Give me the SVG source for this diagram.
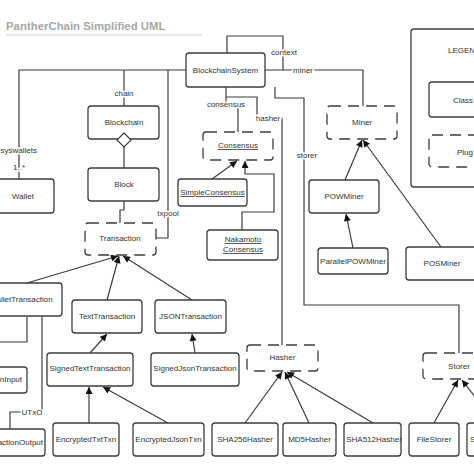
<svg xmlns="http://www.w3.org/2000/svg" width="474" height="474" viewBox="0 0 474 474">
<style>
.b{fill:#fff;stroke:#3c3c3c;stroke-width:1.3}
.d{fill:#fff;stroke:#3c3c3c;stroke-width:1.3;stroke-dasharray:11 7}
.t{font-family:"Liberation Sans",Arial,sans-serif;font-size:8px;fill:#333;text-anchor:middle}
.u{text-decoration:underline}
.c{fill:none;stroke:#3c3c3c;stroke-width:1.2}
.a{fill:none;stroke:#3c3c3c;stroke-width:1.2;marker-end:url(#tri)}
.l{font-family:"Liberation Sans",Arial,sans-serif;font-size:8px;fill:#333;text-anchor:middle;stroke:#fff;stroke-width:3;paint-order:stroke}
</style>
<defs>
<marker id="tri" viewBox="0 0 10 10" refX="10" refY="5" markerWidth="8" markerHeight="7" markerUnits="userSpaceOnUse" orient="auto">
<path d="M0,0 L10,5 L0,10 z" fill="#111"/>
</marker>
</defs>
<rect width="474" height="474" fill="#fff"/>
<g id="title">
<text x="6" y="30" font-family="Liberation Sans,Arial,sans-serif" font-weight="bold" font-size="11.4" fill="#a8a8a8">PantherChain Simplified UML</text>
<line x1="6" y1="35" x2="202" y2="35" stroke="#d0d0d0" stroke-width="1"/>
</g>
<g id="connectors">
<path class="c" d="M186,70 H19 V179"/>
<path class="c" d="M124,70 V106"/>
<path class="c" d="M168,70 V238 H156"/>
<path class="c" d="M227,53 V36 H283 V70"/>
<path class="c" d="M265,70 H363 V106"/>
<path class="c" d="M275,87 V98 H304 V305 H459 V353"/>
<path class="c" d="M226,87 V104 H238 V132"/>
<path class="c" d="M226,97 H257 V118 H282 V345"/>
<path class="c" d="M124,147 V168"/>
<path class="c" d="M124,201 V210 H120 V223"/>
<path class="c" d="M27,317 V342 H-5"/>
<path class="c" d="M42,317 V412 H10 V429"/>
<path class="a" d="M212,179 L237,161"/>
<path class="a" d="M242,230 V212 H274 V174 H245 V161"/>
<path class="a" d="M27,283 L118,256"/>
<path class="a" d="M107,300 L119,256"/>
<path class="a" d="M192,300 L123,256"/>
<path class="a" d="M90,353 L107,334"/>
<path class="a" d="M195,353 L192,334"/>
<path class="a" d="M89,423 V387"/>
<path class="a" d="M168,423 L103,387"/>
<path class="a" d="M245,423 L282,372"/>
<path class="a" d="M309,423 L285,372"/>
<path class="a" d="M373,423 L287,372"/>
<path class="a" d="M434,423 L458,380"/>
<path class="a" d="M476,398 L462,380"/>
<path class="a" d="M345,180 L362,140"/>
<path class="a" d="M441,247 L363,140"/>
<path class="a" d="M353,248 L346,214"/>
<text class="l" x="37" y="153" style="text-anchor:end">esyswallets</text>
<text class="l" x="19" y="170">1..*</text>
<text class="l" x="124" y="96">chain</text>
<text class="l" x="168" y="216">txpool</text>
<text class="l" x="284" y="55">context</text>
<text class="l" x="303" y="73">miner</text>
<text class="l" x="307" y="158">storer</text>
<text class="l" x="226" y="107">consensus</text>
<text class="l" x="268" y="121">hasher</text>
<text class="l" x="32" y="415">UTxO</text>
</g>
<g id="BlockchainSystem"><rect class="b" x="186" y="53" width="79" height="34" rx="3"/><text class="t" x="225.5" y="73">BlockchainSystem</text></g>
<g id="Blockchain"><rect class="b" x="88" y="106" width="71" height="33" rx="3"/><text class="t" x="124" y="125">Blockchain</text><path d="M124,133 L131,140 L124,147 L117,140 z" fill="#fff" stroke="#3c3c3c" stroke-width="1.2"/></g>
<g id="Block"><rect class="b" x="88" y="168" width="71" height="33" rx="3"/><text class="t" x="124" y="187">Block</text></g>
<g id="Wallet"><rect class="b" x="-15" y="179" width="69" height="34" rx="3"/><text class="t" x="23" y="199">Wallet</text></g>
<g id="Transaction"><rect class="d" x="85" y="223" width="71" height="32" rx="3"/><text class="t" x="120" y="241">Transaction</text></g>
<g id="Consensus"><rect class="d" x="203" y="132" width="70" height="28" rx="3"/><text class="t u" x="238" y="148">Consensus</text></g>
<g id="SimpleConsensus"><rect class="b" x="178" y="179" width="69" height="27" rx="3"/><text class="t u" x="212.5" y="195">SimpleConsensus</text></g>
<g id="NakamotoConsensus"><rect class="b" x="207" y="230" width="71" height="30" rx="3"/><text class="t u" x="243" y="242">Nakamoto</text><text class="t u" x="243" y="252">Consensus</text></g>
<g id="Miner"><rect class="d" x="327" y="106" width="70" height="33" rx="3"/><text class="t" x="362" y="125">Miner</text></g>
<g id="POWMiner"><rect class="b" x="309" y="180" width="70" height="33" rx="3"/><text class="t" x="344" y="199">POWMiner</text></g>
<g id="ParallelPOWMiner"><rect class="b" x="318" y="248" width="70" height="26" rx="3"/><text class="t" x="353" y="264">ParallelPOWMiner</text></g>
<g id="POSMiner"><rect class="b" x="406" y="247" width="76" height="33" rx="3"/><text class="t" x="442" y="266">POSMiner</text></g>
<g id="WalletTransaction"><rect class="b" x="-20" y="283" width="82" height="33" rx="3"/><text class="t" x="21" y="302">WalletTransaction</text></g>
<g id="TextTransaction"><rect class="b" x="72" y="300" width="70" height="33" rx="3"/><text class="t" x="107" y="319">TextTransaction</text></g>
<g id="JSONTransaction"><rect class="b" x="155" y="300" width="71" height="33" rx="3"/><text class="t" x="190.5" y="319">JSONTransaction</text></g>
<g id="TransactionInput"><rect class="b" x="-45" y="367" width="72" height="26" rx="3"/><text class="t" x="22" y="382" style="text-anchor:end">TransactionInput</text></g>
<g id="SignedTextTransaction"><rect class="b" x="47" y="353" width="86" height="33" rx="3"/><text class="t" x="90" y="371">SignedTextTransaction</text></g>
<g id="SignedJsonTransaction"><rect class="b" x="151" y="353" width="88" height="33" rx="3"/><text class="t" x="195" y="371">SignedJsonTransaction</text></g>
<g id="TransactionOutput"><rect class="b" x="-35" y="429" width="80" height="27" rx="3"/><text class="t" x="43" y="445" style="text-anchor:end">TransactionOutput</text></g>
<g id="EncryptedTxtTxn"><rect class="b" x="53" y="423" width="66" height="33" rx="3"/><text class="t" x="86" y="442">EncryptedTxtTxn</text></g>
<g id="EncryptedJsonTxn"><rect class="b" x="133" y="423" width="71" height="33" rx="3"/><text class="t" x="168.5" y="442">EncryptedJsonTxn</text></g>
<g id="Hasher"><rect class="d" x="247" y="345" width="71" height="26" rx="3"/><text class="t" x="282.5" y="360">Hasher</text></g>
<g id="SHA256Hasher"><rect class="b" x="212" y="423" width="66" height="33" rx="3"/><text class="t" x="245" y="442">SHA256Hasher</text></g>
<g id="MD5Hasher"><rect class="b" x="283" y="423" width="53" height="33" rx="3"/><text class="t" x="309.5" y="442">MD5Hasher</text></g>
<g id="SHA512Hasher"><rect class="b" x="344" y="423" width="57" height="33" rx="3"/><text class="t" x="374" y="442">SHA512Hasher</text></g>
<g id="Storer"><rect class="d" x="423" y="353" width="72" height="26" rx="3"/><text class="t" x="459" y="369">Storer</text></g>
<g id="FileStorer"><rect class="b" x="409" y="423" width="50" height="33" rx="3"/><text class="t" x="434" y="442">FileStorer</text></g>
<g id="OtherStorer"><rect class="b" x="467" y="423" width="40" height="33" rx="3"/><text class="t" x="470" y="442" style="text-anchor:start">S</text></g>
<g id="Legend">
<rect class="b" x="411" y="29" width="80" height="158" rx="3"/>
<text class="t" x="448" y="53" style="text-anchor:start">LEGEND</text>
<rect class="b" x="429" y="82" width="60" height="35" rx="3"/>
<text class="t" x="453" y="103" style="text-anchor:start">Class</text>
<rect class="d" x="429" y="135" width="60" height="32" rx="3"/>
<text class="t" x="457" y="155" style="text-anchor:start">Plug</text>
</g>
</svg>
